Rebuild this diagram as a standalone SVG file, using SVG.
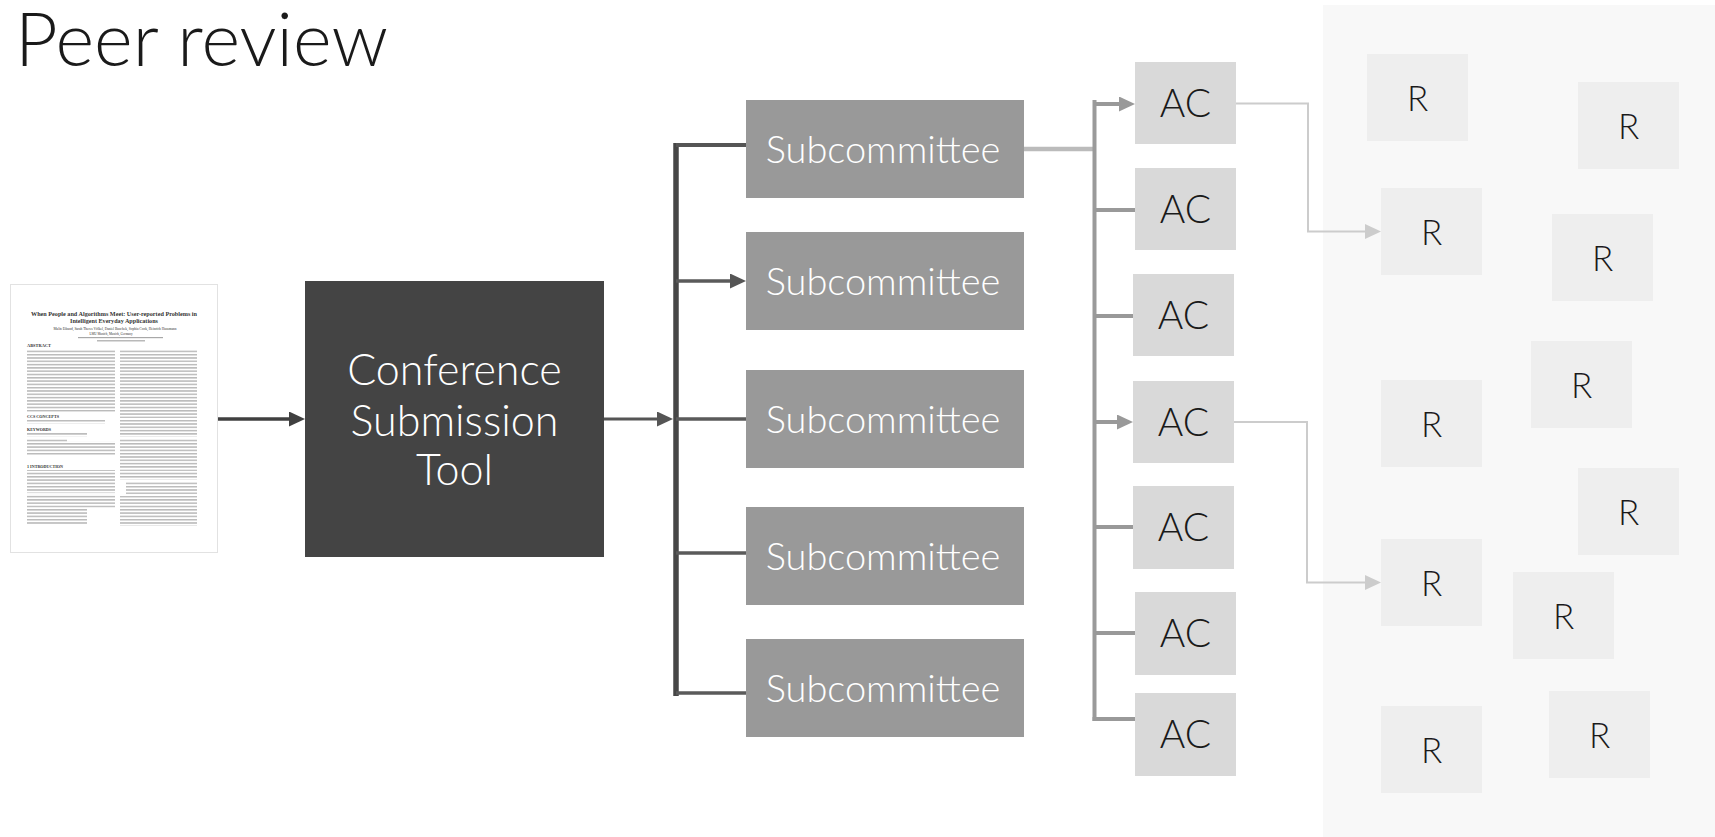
<svg xmlns="http://www.w3.org/2000/svg" width="1715" height="837" viewBox="0 0 1715 837">
<style>
.lt{font-family:Lato,"Open Sans","Liberation Sans",sans-serif;font-weight:300;text-anchor:middle}
.conf{fill:#444444}
.sub{fill:#999999}
.ac{fill:#d9d9d9}
.r{fill:#eeeeee}
.wt{fill:#ffffff}
.bk{fill:#1a1a1a}
.pt{font-family:"Liberation Serif",serif;fill:#333}
</style>
<defs>
<pattern id="txt" width="6" height="3.3" patternUnits="userSpaceOnUse"><rect x="0" y="1" width="6" height="1.2" fill="#a8a8a8"/></pattern>
<marker id="aDark" markerUnits="userSpaceOnUse" markerWidth="16" markerHeight="15" refX="0" refY="7.5" orient="auto"><path d="M0,0 L16,7.5 L0,15 z" fill="#404040"/></marker>
<marker id="aMid" markerUnits="userSpaceOnUse" markerWidth="16" markerHeight="15" refX="0" refY="7.5" orient="auto"><path d="M0,0 L16,7.5 L0,15 z" fill="#555555"/></marker>
<marker id="aGray" markerUnits="userSpaceOnUse" markerWidth="16" markerHeight="15" refX="0" refY="7.5" orient="auto"><path d="M0,0 L16,7.5 L0,15 z" fill="#999999"/></marker>
<marker id="aLight" markerUnits="userSpaceOnUse" markerWidth="16" markerHeight="15" refX="0" refY="7.5" orient="auto"><path d="M0,0 L16,7.5 L0,15 z" fill="#cccccc"/></marker>
</defs>
<rect width="1715" height="837" fill="#ffffff"/>
<rect x="1323" y="5" width="392" height="832" fill="#f8f8f8"/>
<text x="15" y="66" font-size="74" class="lt bk" style="text-anchor:start">Peer review</text>

<g id="paper">
<rect x="10.5" y="284.5" width="207" height="268" fill="#ffffff" stroke="#e2e2e2" stroke-width="1"/>
<text class="pt" x="114" y="316" font-size="5.6" font-weight="bold" text-anchor="middle" textLength="166" lengthAdjust="spacingAndGlyphs">When People and Algorithms Meet: User-reported Problems in</text>
<text class="pt" x="114" y="323" font-size="5.6" font-weight="bold" text-anchor="middle" textLength="88" lengthAdjust="spacingAndGlyphs">Intelligent Everyday Applications</text>
<text class="pt" x="115" y="330" font-size="3.8" text-anchor="middle" textLength="123" lengthAdjust="spacingAndGlyphs">Malin Eiband, Sarah Theres Völkel, Daniel Buschek, Sophia Cook, Heinrich Hussmann</text>
<text class="pt" x="111" y="335" font-size="3.4" text-anchor="middle" textLength="43" lengthAdjust="spacingAndGlyphs">LMU Munich, Munich, Germany</text>
<rect x="78" y="337" width="85" height="1.2" fill="#a8a8a8"/>
<rect x="97" y="340.2" width="48" height="1.2" fill="#a8a8a8"/>
<text class="pt" x="27" y="347" font-size="3.6" font-weight="bold" textLength="24" lengthAdjust="spacingAndGlyphs">ABSTRACT</text>
<rect x="27" y="349" width="88" height="62.7" fill="url(#txt)"/>
<text class="pt" x="27" y="418" font-size="3.6" font-weight="bold" textLength="32" lengthAdjust="spacingAndGlyphs">CCS CONCEPTS</text>
<rect x="27" y="420" width="78" height="3.3" fill="url(#txt)"/>
<text class="pt" x="27" y="431" font-size="3.6" font-weight="bold" textLength="24" lengthAdjust="spacingAndGlyphs">KEYWORDS</text>
<rect x="27" y="433" width="60" height="3.3" fill="url(#txt)"/>
<rect x="27" y="438.5" width="40" height="3.3" fill="url(#txt)"/>
<rect x="27" y="441.8" width="88" height="13.2" fill="url(#txt)"/>
<text class="pt" x="27" y="468" font-size="3.6" font-weight="bold" textLength="36" lengthAdjust="spacingAndGlyphs">1   INTRODUCTION</text>
<rect x="27" y="470" width="88" height="23.1" fill="url(#txt)"/>
<rect x="27" y="494.5" width="88" height="13.2" fill="url(#txt)"/>
<rect x="27" y="508.5" width="60" height="16.5" fill="url(#txt)"/>
<rect x="120" y="349" width="77" height="13.2" fill="url(#txt)"/>
<rect x="120" y="363.5" width="77" height="23.1" fill="url(#txt)"/>
<rect x="120" y="387" width="77" height="31" fill="url(#txt)"/>
<rect x="120" y="420" width="77" height="16.5" fill="url(#txt)"/>
<rect x="120" y="439" width="77" height="29.7" fill="url(#txt)"/>
<rect x="120" y="469.5" width="77" height="9.9" fill="url(#txt)"/>
<rect x="126" y="481" width="71" height="13.2" fill="url(#txt)"/>
<rect x="120" y="496" width="77" height="29.7" fill="url(#txt)"/>
</g>

<g id="conference-submission-tool">
<rect class="conf" x="305" y="281" width="299" height="276"/>
<text class="lt wt" font-size="43" x="454.5" y="385">Conference</text>
<text class="lt wt" font-size="43" x="454.5" y="436">Submission</text>
<text class="lt wt" font-size="43" x="454.5" y="485">Tool</text>
</g>

<g id="subcommittee-1"><rect class="sub" x="746" y="100" width="278" height="98"/><text class="lt wt" font-size="38" x="883" y="163">Subcommittee</text></g>
<g id="subcommittee-2"><rect class="sub" x="746" y="232" width="278" height="98"/><text class="lt wt" font-size="38" x="883" y="295">Subcommittee</text></g>
<g id="subcommittee-3"><rect class="sub" x="746" y="370" width="278" height="98"/><text class="lt wt" font-size="38" x="883" y="433">Subcommittee</text></g>
<g id="subcommittee-4"><rect class="sub" x="746" y="507" width="278" height="98"/><text class="lt wt" font-size="38" x="883" y="570">Subcommittee</text></g>
<g id="subcommittee-5"><rect class="sub" x="746" y="639" width="278" height="98"/><text class="lt wt" font-size="38" x="883" y="702">Subcommittee</text></g>

<g id="ac-1"><rect class="ac" x="1135" y="62" width="101" height="82"/><text class="lt bk" font-size="39" x="1185.5" y="117">AC</text></g>
<g id="ac-2"><rect class="ac" x="1135" y="168" width="101" height="82"/><text class="lt bk" font-size="39" x="1185.5" y="223">AC</text></g>
<g id="ac-3"><rect class="ac" x="1133" y="274" width="101" height="82"/><text class="lt bk" font-size="39" x="1183.5" y="329">AC</text></g>
<g id="ac-4"><rect class="ac" x="1133" y="381" width="101" height="82"/><text class="lt bk" font-size="39" x="1183.5" y="436">AC</text></g>
<g id="ac-5"><rect class="ac" x="1133" y="486" width="101" height="83"/><text class="lt bk" font-size="39" x="1183.5" y="541">AC</text></g>
<g id="ac-6"><rect class="ac" x="1135" y="592" width="101" height="83"/><text class="lt bk" font-size="39" x="1185.5" y="647">AC</text></g>
<g id="ac-7"><rect class="ac" x="1135" y="693" width="101" height="83"/><text class="lt bk" font-size="39" x="1185.5" y="748">AC</text></g>

<g id="r-1"><rect class="r" x="1367" y="54" width="101" height="87"/><text class="lt bk" font-size="35" x="1417.5" y="111">R</text></g>
<g id="r-2"><rect class="r" x="1578" y="82" width="101" height="87"/><text class="lt bk" font-size="35" x="1628.5" y="139">R</text></g>
<g id="r-3"><rect class="r" x="1381" y="188" width="101" height="87"/><text class="lt bk" font-size="35" x="1431.5" y="245">R</text></g>
<g id="r-4"><rect class="r" x="1552" y="214" width="101" height="87"/><text class="lt bk" font-size="35" x="1602.5" y="271">R</text></g>
<g id="r-5"><rect class="r" x="1531" y="341" width="101" height="87"/><text class="lt bk" font-size="35" x="1581.5" y="398">R</text></g>
<g id="r-6"><rect class="r" x="1381" y="380" width="101" height="87"/><text class="lt bk" font-size="35" x="1431.5" y="437">R</text></g>
<g id="r-7"><rect class="r" x="1578" y="468" width="101" height="87"/><text class="lt bk" font-size="35" x="1628.5" y="525">R</text></g>
<g id="r-8"><rect class="r" x="1381" y="539" width="101" height="87"/><text class="lt bk" font-size="35" x="1431.5" y="596">R</text></g>
<g id="r-9"><rect class="r" x="1513" y="572" width="101" height="87"/><text class="lt bk" font-size="35" x="1563.5" y="629">R</text></g>
<g id="r-10"><rect class="r" x="1381" y="706" width="101" height="87"/><text class="lt bk" font-size="35" x="1431.5" y="763">R</text></g>
<g id="r-11"><rect class="r" x="1549" y="691" width="101" height="87"/><text class="lt bk" font-size="35" x="1599.5" y="748">R</text></g>

<g id="connectors" fill="none">
<path d="M218,419 H289" stroke="#404040" stroke-width="3.5" marker-end="url(#aDark)"/>
<path d="M604,419 H657" stroke="#555555" stroke-width="3" marker-end="url(#aMid)"/>
<path d="M676,143 V696" stroke="#464646" stroke-width="5.5"/>
<path d="M676,145 H746" stroke="#555555" stroke-width="4"/>
<path d="M676,281 H730" stroke="#5a5a5a" stroke-width="3.5" marker-end="url(#aMid)"/>
<path d="M676,419 H746" stroke="#5a5a5a" stroke-width="3.5"/>
<path d="M676,553 H746" stroke="#5a5a5a" stroke-width="3.5"/>
<path d="M676,693 H746" stroke="#5a5a5a" stroke-width="3.5"/>
<path d="M1024,149 H1093" stroke="#bbbbbb" stroke-width="4.5"/>
<path d="M1094.5,100 V721" stroke="#9a9a9a" stroke-width="4"/>
<path d="M1094.5,104 H1119" stroke="#999999" stroke-width="4" marker-end="url(#aGray)"/>
<path d="M1094.5,210 H1135" stroke="#999999" stroke-width="4"/>
<path d="M1094.5,316 H1133" stroke="#999999" stroke-width="4"/>
<path d="M1094.5,422 H1117" stroke="#999999" stroke-width="4" marker-end="url(#aGray)"/>
<path d="M1094.5,527 H1133" stroke="#999999" stroke-width="4"/>
<path d="M1094.5,633 H1135" stroke="#999999" stroke-width="4"/>
<path d="M1092.5,719 H1135" stroke="#999999" stroke-width="4"/>
<path d="M1236,103.5 H1308 V231.5 H1365" stroke="#cccccc" stroke-width="2" marker-end="url(#aLight)"/>
<path d="M1234,422 H1307 V582.5 H1365" stroke="#cccccc" stroke-width="2" marker-end="url(#aLight)"/>
</g>
</svg>
